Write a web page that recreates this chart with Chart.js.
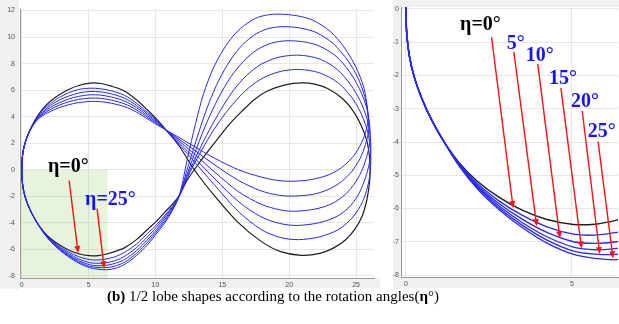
<!DOCTYPE html>
<html>
<head>
<meta charset="utf-8">
<script src="https://cdn.jsdelivr.net/npm/chart.js@4.4.0/dist/chart.umd.min.js"></script>
<style>
body{margin:0;background:#fff;width:619px;height:324px;position:relative;overflow:hidden}
#left{position:absolute;left:0;top:0}
#right{position:absolute;left:392px;top:0}
#cap{position:absolute;left:107px;top:286px;line-height:20px;font-family:"Liberation Serif","Times New Roman",serif;font-size:15px;white-space:nowrap;color:#000}
</style>
</head>
<body>
<canvas id="left" width="380" height="289"></canvas>
<canvas id="right" width="227" height="289"></canvas>
<div id="cap"><b>(b)</b> 1/2 lobe shapes according to the rotation angles(<b>η</b>°)</div>
<script>
// tick values
var xTicksLeft = [0, 5, 10, 15, 20, 25];
var yTicksLeft = [-8, -6, -4, -2, 0, 2, 4, 6, 8, 10, 12];
var xTicksRight = [0, 5];
var yTicksRight = [0, -1, -2, -3, -4, -5, -6, -7, -8];

// lobe curves [x, y]
var eta0 = [[0,0],[0.02,0.7],[0.1,1.4],[0.25,2.05],[0.48,2.7],[0.78,3.35],[1.15,4.0],[1.6,4.62],[2.15,5.18],[2.8,5.66],[3.5,6.05],[4.25,6.35],[5.1,6.53],[5.9,6.5],[6.7,6.3],[7.7,5.92],[8.6,5.25],[9.4,4.5],[10.1,3.8],[10.7,3.1],[11.3,2.4],[11.9,1.6],[12.9,0],
  [14.4,-1.95],[16.15,-3.95],[17.9,-5.4],[19.3,-6.15],[20.9,-6.45],[22.3,-6.3],[23.4,-5.85],[24.2,-5.3],[24.9,-4.5],[25.45,-3.5],[25.8,-2.3],[26.0,-1.0],[26.05,0],
  [26.0,1.0],[25.8,2.2],[25.4,3.3],[24.8,4.4],[24.0,5.35],[22.9,6.1],[21.9,6.45],[20.9,6.55],
  [19.7,6.4],[18.4,5.95],[17.4,5.3],[16.5,4.45],[15.5,3.4],[14.55,2.2],[13.7,1.1],[12.9,0],[12.3,-0.9],[11.8,-1.9],
  [11.3,-2.55],[10.7,-3.2],[10.1,-3.85],[9.4,-4.5],[8.6,-5.25],[7.7,-5.87],[7.0,-6.15],[6.35,-6.35],[5.7,-6.47],[5.05,-6.48],[4.25,-6.33],[3.5,-6.05],[2.8,-5.66],[2.15,-5.18],[1.6,-4.62],[1.15,-4.0],[0.78,-3.35],[0.48,-2.7],[0.25,-2.05],[0.1,-1.4],[0.02,-0.7],[0,0]];
var eta5 = [[0,0],[0.02,0.7],[0.1,1.4],[0.25,2.05],[0.48,2.7],[0.78,3.33],[1.15,3.95],[1.6,4.5],[2.15,5.0],[2.8,5.45],[3.5,5.8],[4.25,6.05],[5.1,6.15],[5.9,6.1],[6.7,5.95],[7.7,5.6],[8.6,5.0],[9.4,4.32],[10.1,3.7],[10.7,3.08],
  [11.9,1.75],[12.95,0.55],[14.45,-1.2],[16.2,-3.15],[17.9,-4.5],[19.3,-5.1],[20.7,-5.27],[22.3,-5.05],[23.6,-4.55],[24.5,-3.85],[25.2,-2.95],[25.7,-1.85],[26.0,-0.6],[26.1,0.6],
  [26.05,1.8],[25.8,3.1],[25.3,4.4],[24.6,5.55],[23.6,6.6],[22.4,7.25],[21.4,7.5],[20.4,7.55],
  [19.3,7.4],[18.1,6.95],[17.0,6.2],[16.0,5.2],[15.0,3.95],[14.1,2.6],[13.3,1.2],[12.6,-0.15],[11.8,-1.9],
  [11.3,-2.7],[10.7,-3.43],[10.1,-4.12],[9.4,-4.8],[8.6,-5.58],[7.7,-6.22],[7.0,-6.55],[6.35,-6.72],[5.7,-6.8],[5.05,-6.77],[4.25,-6.55],[3.5,-6.2],[2.8,-5.77],[2.15,-5.25],[1.6,-4.65],[1.15,-4.0],[0.78,-3.35],[0.48,-2.7],[0.25,-2.05],[0.1,-1.4],[0.02,-0.7],[0,0]];
var eta10 = [[0,0],[0.02,0.7],[0.1,1.4],[0.25,2.05],[0.48,2.69],[0.78,3.31],[1.15,3.9],[1.6,4.4],[2.15,4.85],[2.8,5.25],[3.5,5.55],[4.25,5.78],[5.1,5.9],[5.9,5.87],[6.7,5.72],[7.7,5.38],[8.6,4.83],[9.4,4.2],[10.1,3.62],[10.7,3.07],
  [11.9,1.9],[12.95,0.85],[14.45,-0.7],[16.2,-2.4],[17.9,-3.55],[19.3,-4.05],[20.6,-4.2],[22.2,-4.0],[23.5,-3.55],[24.4,-2.9],[25.1,-2.0],[25.6,-0.9],[25.95,0.3],[26.1,1.4],
  [26.05,2.6],[25.8,3.9],[25.3,5.2],[24.6,6.4],[23.6,7.55],[22.4,8.3],[21.3,8.58],[20.3,8.63],
  [19.1,8.45],[17.9,7.95],[16.8,7.1],[15.8,5.95],[14.9,4.55],[14.0,2.95],[13.2,1.35],[12.5,-0.2],[11.8,-1.9],
  [11.3,-2.78],[10.7,-3.56],[10.1,-4.3],[9.4,-5.05],[8.6,-5.85],[7.7,-6.52],[7.0,-6.85],[6.35,-7.0],[5.7,-7.05],[5.05,-7.0],[4.25,-6.72],[3.5,-6.32],[2.8,-5.85],[2.15,-5.3],[1.6,-4.67],[1.15,-4.0],[0.78,-3.35],[0.48,-2.7],[0.25,-2.05],[0.1,-1.4],[0.02,-0.7],[0,0]];
var eta15 = [[0,0],[0.02,0.7],[0.1,1.4],[0.25,2.04],[0.48,2.68],[0.78,3.29],[1.15,3.85],[1.6,4.3],[2.15,4.7],[2.8,5.05],[3.5,5.33],[4.25,5.53],[5.1,5.65],[5.9,5.62],[6.7,5.48],[7.7,5.17],[8.6,4.67],[9.4,4.08],[10.1,3.55],[10.7,3.06],
  [11.9,2.05],[12.95,1.15],[14.45,-0.2],[16.2,-1.65],[17.9,-2.6],[19.3,-3.02],[20.4,-3.13],[22.0,-2.95],[23.2,-2.55],[24.2,-1.85],[24.95,-0.95],[25.5,0.1],[25.85,1.2],[26.05,2.3],
  [26.0,3.5],[25.75,4.8],[25.25,6.1],[24.5,7.4],[23.5,8.55],[22.2,9.35],[21.0,9.65],[19.8,9.72],
  [18.7,9.55],[17.6,9.05],[16.6,8.2],[15.6,6.95],[14.7,5.4],[13.85,3.6],[13.1,1.7],[12.45,-0.1],[11.8,-1.9],
  [11.3,-2.86],[10.7,-3.72],[10.1,-4.48],[9.4,-5.28],[8.6,-6.08],[7.7,-6.77],[7.0,-7.05],[6.35,-7.2],[5.7,-7.24],[5.05,-7.16],[4.25,-6.85],[3.5,-6.42],[2.8,-5.92],[2.15,-5.34],[1.6,-4.69],[1.15,-4.0],[0.78,-3.35],[0.48,-2.7],[0.25,-2.05],[0.1,-1.4],[0.02,-0.7],[0,0]];
var eta20 = [[0,0],[0.02,0.7],[0.1,1.4],[0.25,2.03],[0.48,2.67],[0.78,3.27],[1.15,3.8],[1.6,4.2],[2.15,4.55],[2.8,4.87],[3.5,5.12],[4.25,5.3],[5.1,5.4],[5.9,5.38],[6.7,5.25],[7.7,4.96],[8.6,4.5],[9.4,3.95],[10.1,3.47],[10.7,3.05],
  [11.9,2.2],[12.95,1.45],[14.45,0.35],[16.2,-0.8],[17.9,-1.6],[19.3,-1.93],[20.4,-1.98],[21.8,-1.85],[22.9,-1.5],[23.9,-0.9],[24.7,-0.1],[25.3,0.85],[25.7,1.9],[25.95,3.0],
  [25.9,4.2],[25.65,5.5],[25.15,6.9],[24.4,8.2],[23.3,9.5],[22.0,10.35],[20.7,10.7],[19.4,10.78],
  [18.3,10.6],[17.3,10.1],[16.3,9.2],[15.4,7.95],[14.55,6.35],[13.8,4.5],[13.1,2.4],[12.45,0.3],[11.8,-1.9],
  [11.3,-2.93],[10.7,-3.86],[10.1,-4.63],[9.4,-5.47],[8.6,-6.28],[7.7,-6.97],[7.0,-7.25],[6.35,-7.38],[5.7,-7.37],[5.05,-7.28],[4.25,-6.95],[3.5,-6.5],[2.8,-5.98],[2.15,-5.38],[1.6,-4.71],[1.15,-4.0],[0.78,-3.35],[0.48,-2.7],[0.25,-2.05],[0.1,-1.4],[0.02,-0.7],[0,0]];
var eta25 = [[0,0],[0.02,0.7],[0.1,1.4],[0.25,2.02],[0.48,2.66],[0.78,3.25],[1.15,3.75],[1.6,4.1],[2.15,4.4],[2.8,4.68],[3.5,4.9],[4.25,5.06],[5.1,5.15],[5.9,5.13],[6.7,5.01],[7.7,4.75],[8.6,4.33],[9.4,3.83],[10.1,3.4],[10.7,3.05],
  [11.9,2.35],[12.95,1.72],[14.45,0.85],[16.2,0.0],[17.9,-0.55],[19.1,-0.8],[20.2,-0.87],[21.6,-0.75],[22.9,-0.4],[23.9,0.15],[24.7,0.9],[25.3,1.8],[25.7,2.8],[25.9,3.8],
  [25.8,5.0],[25.55,6.3],[25.0,7.7],[24.2,9.1],[23.1,10.4],[21.7,11.3],[20.3,11.65],[18.8,11.72],
  [17.7,11.5],[16.8,11.0],[15.95,10.25],[15.1,9.1],[14.3,7.6],[13.6,5.75],[13.0,3.5],[12.4,0.9],[11.8,-1.9],
  [11.3,-3.0],[10.7,-4.0],[10.1,-4.78],[9.4,-5.66],[8.6,-6.45],[7.7,-7.13],[7.0,-7.43],[6.35,-7.54],[5.7,-7.5],[5.05,-7.38],[4.25,-7.04],[3.5,-6.57],[2.8,-6.03],[2.15,-5.41],[1.6,-4.72],[1.15,-4.0],[0.78,-3.35],[0.48,-2.7],[0.25,-2.05],[0.1,-1.4],[0.02,-0.7],[0,0]];

var blueCurves = [eta5, eta10, eta15, eta20, eta25];

// annotations (data units): arrows x0,y0 -> x1,y1 and labels
var leftArrows = [[3.54,-0.81,4.21,-6.28],[5.63,-2.93,6.16,-7.43]];
var leftLabels = [['η=0°',1.96,-0.2],['η=25°',4.73,-2.68]];
var rightArrows = [[2.58,-0.85,3.23,-5.99],[3.25,-1.29,3.94,-6.53],[3.97,-1.65,4.64,-6.9],[4.67,-2.38,5.29,-7.2],[5.31,-3.06,5.84,-7.37],[5.79,-3.99,6.24,-7.5]];
var rightLabels = [['η=0°',1.63,-0.63],['5°',3.04,-1.2],['10°',3.61,-1.56],['15°',4.31,-2.26],['20°',4.97,-2.95],['25°',5.48,-3.85]];
var zoomBox = [-1, 6.42, 0, -9]; // green zoom area

function toPts(arr) {
    return arr.map(function (p) { return {x: p[0], y: p[1]}; });
}

function makeSets(bw) {
    var sets = [];
    blueCurves.forEach(function (c) {
        sets.push({data: toPts(c), borderColor: 'rgb(40,40,255)', borderWidth: bw});
    });
    sets.push({data: toPts(eta0), borderColor: '#1e1e1e', borderWidth: bw + 0.2});
    return sets;
}

function axis(min, max, ticks, dir, size, pad) {
    return {
        type: 'linear', min: min, max: max,
        afterBuildTicks: function (s) { s.ticks = ticks.map(function (v) { return {value: v}; }); },
        afterFit: function (s) { if (dir == 'x') s.height = size; else s.width = size; },
        grid: {color: '#e6e6e6', drawTicks: false},
        border: {color: '#9a9a9a'},
        ticks: {font: {size: 7, family: 'Liberation Sans'}, color: '#555', padding: pad, maxRotation: 0, autoSkip: false}
    };
}

function arrow(ctx, x0, y0, x1, y1) {
    var a = Math.atan2(y1 - y0, x1 - x0);
    ctx.strokeStyle = '#ff1010';
    ctx.fillStyle = '#ff1010';
    ctx.lineWidth = 1.4;
    ctx.beginPath();
    ctx.moveTo(x0, y0);
    ctx.lineTo(x1 - 4 * Math.cos(a), y1 - 4 * Math.sin(a));
    ctx.stroke();
    ctx.beginPath();
    ctx.moveTo(x1, y1);
    ctx.lineTo(x1 - 7 * Math.cos(a) + 3 * Math.sin(a), y1 - 7 * Math.sin(a) - 3 * Math.cos(a));
    ctx.lineTo(x1 - 7 * Math.cos(a) - 3 * Math.sin(a), y1 - 7 * Math.sin(a) + 3 * Math.cos(a));
    ctx.closePath();
    ctx.fill();
}

function notes(arrows, labels, green) {
    return {
        id: 'notes',
        beforeDraw: function (chart) {
            var ctx = chart.ctx, a = chart.chartArea, w = chart.width, h = chart.height;
            ctx.save();
            ctx.fillStyle = '#fff';
            ctx.fillRect(0, 0, w, h);
            ctx.fillStyle = '#f0f0f0';
            if (green) {
                ctx.fillRect(0, 0, a.left - 1, h);
                ctx.fillRect(0, a.bottom, w, h - a.bottom - 1);
            } else {
                ctx.fillRect(1, 0, w - 1, a.top);
                ctx.fillRect(1, 0, a.left - 1, h);
                ctx.fillRect(1, a.bottom, w - 1, h - a.bottom - 1);
            }
            ctx.restore();
        },
        beforeDatasetsDraw: function (chart) {
            if (!green) return;
            var ctx = chart.ctx, a = chart.chartArea, sx = chart.scales.x, sy = chart.scales.y;
            var x0 = Math.max(a.left, sx.getPixelForValue(zoomBox[0]));
            var x1 = sx.getPixelForValue(zoomBox[1]);
            var y0 = sy.getPixelForValue(zoomBox[2]);
            var y1 = Math.min(a.bottom, sy.getPixelForValue(zoomBox[3]));
            ctx.save();
            ctx.fillStyle = 'rgba(160,210,110,0.25)';
            ctx.fillRect(x0, y0, x1 - x0, y1 - y0);
            ctx.restore();
        },
        afterDatasetsDraw: function (chart) {
            var ctx = chart.ctx, sx = chart.scales.x, sy = chart.scales.y;
            ctx.save();
            arrows.forEach(function (r) {
                arrow(ctx, sx.getPixelForValue(r[0]), sy.getPixelForValue(r[1]), sx.getPixelForValue(r[2]), sy.getPixelForValue(r[3]));
            });
            ctx.font = 'bold 20px "Liberation Serif", "Times New Roman", serif';
            ctx.textBaseline = 'alphabetic';
            labels.forEach(function (l, i) {
                ctx.fillStyle = i == 0 ? '#000' : '#1414ff';
                ctx.fillText(l[0], sx.getPixelForValue(l[1]), sy.getPixelForValue(l[2]));
            });
            ctx.restore();
        }
    };
}

var common = {
    responsive: false,
    animation: false,
    devicePixelRatio: 1,
    plugins: {legend: {display: false}, tooltip: {enabled: false}},
    elements: {point: {radius: 0}, line: {tension: 0.3, capBezierPoints: false, fill: false}},
    datasets: {scatter: {showLine: true}}
};

var leftChart = new Chart(document.getElementById('left'), {
    type: 'scatter',
    data: {datasets: makeSets(1)},
    options: Object.assign({}, common, {
        layout: {padding: {top: 8, right: 6, left: 0, bottom: 0}},
        scales: {
            x: axis(-0.135, 26.34, xTicksLeft, 'x', 11, 3),
            y: axis(-8.16, 12.1, yTicksLeft, 'y', 20, 5)
        }
    }),
    plugins: [notes(leftArrows, leftLabels, true)]
});

var rightChart = new Chart(document.getElementById('right'), {
    type: 'scatter',
    data: {datasets: makeSets(1.3)},
    options: Object.assign({}, common, {
        layout: {padding: {top: 7, right: 1, left: 0, bottom: 0}},
        scales: {
            x: axis(-0.15, 6.39, xTicksRight, 'x', 12, 3),
            y: axis(-8.06, 0.06, yTicksRight, 'y', 9, 2)
        }
    }),
    plugins: [notes(rightArrows, rightLabels, false)]
});
</script>
</body>
</html>
